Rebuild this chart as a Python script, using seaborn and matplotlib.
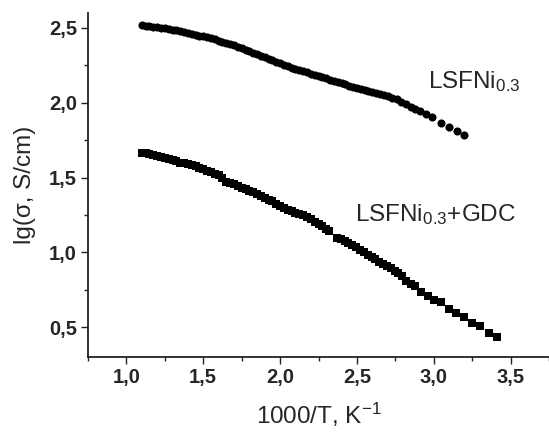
import pandas as pd
import seaborn as sns
import matplotlib.pyplot as plt
from matplotlib.ticker import MultipleLocator

# LSFNi0.3 (circles)
x_lsfni = [1.100, 1.125, 1.150, 1.175, 1.200, 1.225, 1.250, 1.275, 1.300, 1.325,
           1.350, 1.375, 1.400, 1.425, 1.450, 1.475, 1.500, 1.525, 1.550, 1.575,
           1.600, 1.625, 1.650, 1.675, 1.700, 1.725, 1.750, 1.775, 1.800, 1.825,
           1.850, 1.875, 1.900, 1.925, 1.950, 1.975, 2.000, 2.025, 2.050, 2.075,
           2.100, 2.125, 2.150, 2.175, 2.200, 2.225, 2.250, 2.275, 2.300, 2.325,
           2.350, 2.375, 2.400, 2.425, 2.450, 2.475, 2.500, 2.525, 2.550, 2.575,
           2.600, 2.625, 2.650, 2.675, 2.700, 2.730, 2.760, 2.790, 2.820, 2.850,
           2.880, 2.910, 2.950, 2.990, 3.050, 3.100, 3.150, 3.200]
y_lsfni = [2.518, 2.515, 2.512, 2.508, 2.505, 2.501, 2.497, 2.493, 2.488, 2.483,
           2.478, 2.473, 2.467, 2.461, 2.455, 2.449, 2.443, 2.437, 2.430, 2.423,
           2.415, 2.408, 2.400, 2.393, 2.385, 2.375, 2.365, 2.355, 2.345, 2.335,
           2.325, 2.315, 2.305, 2.295, 2.285, 2.275, 2.265, 2.255, 2.245, 2.235,
           2.225, 2.218, 2.210, 2.203, 2.195, 2.188, 2.180, 2.173, 2.165, 2.155,
           2.145, 2.138, 2.130, 2.122, 2.115, 2.108, 2.100, 2.093, 2.085, 2.078,
           2.070, 2.065, 2.060, 2.052, 2.045, 2.035, 2.025, 2.005, 1.990, 1.970,
           1.955, 1.942, 1.925, 1.903, 1.865, 1.840, 1.810, 1.785]

# LSFNi0.3+GDC (squares)
x_gdc = [1.100, 1.125, 1.150, 1.175, 1.200, 1.225, 1.250, 1.275, 1.300, 1.325,
         1.350, 1.375, 1.400, 1.425, 1.450, 1.475, 1.500, 1.525, 1.550, 1.575,
         1.600, 1.625, 1.650, 1.675, 1.700, 1.725, 1.750, 1.775, 1.800, 1.825,
         1.850, 1.875, 1.900, 1.925, 1.950, 1.975, 2.000, 2.025, 2.050, 2.075,
         2.100, 2.125, 2.150, 2.175, 2.200, 2.225, 2.250, 2.275, 2.300, 2.320,
         2.370, 2.395, 2.420, 2.445, 2.470, 2.495, 2.520, 2.545, 2.570, 2.595,
         2.620, 2.645, 2.670, 2.695, 2.720, 2.745, 2.770, 2.795, 2.820, 2.850,
         2.880, 2.920, 2.960, 3.000, 3.050, 3.100, 3.146, 3.200, 3.250, 3.300,
         3.357, 3.410]
y_gdc = [1.665, 1.663, 1.660, 1.653, 1.645, 1.639, 1.632, 1.625, 1.618, 1.609,
         1.600, 1.595, 1.590, 1.583, 1.575, 1.565, 1.555, 1.545, 1.535, 1.525,
         1.515, 1.500, 1.472, 1.463, 1.455, 1.443, 1.430, 1.420, 1.410, 1.400,
         1.390, 1.378, 1.365, 1.353, 1.340, 1.325, 1.310, 1.298, 1.285, 1.275,
         1.265, 1.258, 1.250, 1.235, 1.220, 1.205, 1.190, 1.173, 1.155, 1.140,
         1.095, 1.087, 1.077, 1.063, 1.048, 1.033, 1.018, 1.000, 0.983, 0.968,
         0.953, 0.938, 0.923, 0.907, 0.893, 0.878, 0.862, 0.840, 0.808, 0.788,
         0.775, 0.733, 0.707, 0.680, 0.667, 0.623, 0.596, 0.570, 0.530, 0.507,
         0.463, 0.436]

x_ticks = [1.0, 1.5, 2.0, 2.5, 3.0, 3.5]
x_tick_labels = ['1,0', '1,5', '2,0', '2,5', '3,0', '3,5']
y_ticks = [0.5, 1.0, 1.5, 2.0, 2.5]
y_tick_labels = ['0,5', '1,0', '1,5', '2,0', '2,5']

df_a = pd.DataFrame({'x': x_lsfni, 'y': y_lsfni})
df_b = pd.DataFrame({'x': x_gdc, 'y': y_gdc})

sns.set_style('ticks')
plt.rcParams['font.family'] = ['Liberation Sans', 'DejaVu Sans']
plt.rcParams['mathtext.fontset'] = 'custom'
plt.rcParams['mathtext.rm'] = 'Liberation Sans'
plt.rcParams['mathtext.it'] = 'Liberation Sans'
plt.rcParams['mathtext.bf'] = 'Liberation Sans:bold'

fig = plt.figure(figsize=(5.49, 4.32), dpi=100)
ax = fig.add_axes([88 / 549, 1 - 357 / 432, 1 - 88 / 549, (357 - 13) / 432])

sns.scatterplot(data=df_a, x='x', y='y', marker='o', color='black',
                s=34, linewidth=0, ax=ax)
sns.scatterplot(data=df_b, x='x', y='y', marker='s', color='black',
                s=30, linewidth=0, ax=ax)

ax.set_xlim(0.75, 3.75)
ax.set_ylim(0.3, 2.6)
ax.set_xticks(x_ticks)
ax.set_xticklabels(x_tick_labels, fontweight='bold', fontsize=14.5)
ax.set_yticks(y_ticks)
ax.set_yticklabels(y_tick_labels, fontweight='bold', fontsize=14.5)
ax.xaxis.set_minor_locator(MultipleLocator(0.25))
ax.yaxis.set_minor_locator(MultipleLocator(0.25))
ax.tick_params(which='major', direction='out', length=5, width=1, pad=3, color='#222222')
ax.tick_params(which='minor', direction='out', length=3, width=1, color='#222222')

ax.set_xlabel(r'1000/T, K$^{\mathregular{-1}}$', fontsize=17.5, labelpad=10)
ax.set_ylabel('lg(σ, S/cm)', fontsize=17.5, labelpad=9)

ax.text(2.96, 2.096, r'LSFNi$_{\mathregular{0.3}}$', fontsize=17.5)
ax.text(2.49, 1.207, r'LSFNi$_{\mathregular{0.3}}$+GDC', fontsize=17.5)

sns.despine(ax=ax)
for side in ['left', 'bottom']:
    ax.spines[side].set_linewidth(1.3)
    ax.spines[side].set_color('#222222')

fig.savefig('out.png', dpi=100)
